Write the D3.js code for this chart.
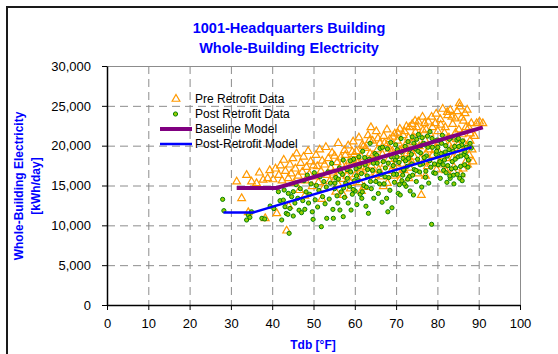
<!DOCTYPE html>
<html><head><meta charset="utf-8">
<script src="https://cdn.jsdelivr.net/npm/d3@7"></script>
<style>
html,body{margin:0;padding:0;background:#fff;}
svg{display:block;font-family:"Liberation Sans",Arial,sans-serif;}
</style></head>
<body>
<svg id="chart" width="558" height="354"></svg>
<script>
// ---- Data (Tdb °F, kWh/day) ----
const titleLines = ["1001-Headquarters Building", "Whole-Building Electricity"];
const xTicks = [0,10,20,30,40,50,60,70,80,90,100];
const yTicks = [0,5000,10000,15000,20000,25000,30000];
const legendLabels = ["Pre Retrofit Data","Post Retrofit Data","Baseline Model","Post-Retrofit Model"];

const preRetrofit = [
[31.4,15480],[32.6,13390],[33.8,16300],[34.2,11630],[35.0,15480],[36.2,15270],[36.9,16600],[37.8,15700],[38.3,10880],[38.9,15900],[39.4,16900],[40.2,15750],[40.8,17100],[41.1,11500],
[41.6,16300],[42.0,17500],[42.4,15600],[42.8,18200],[43.2,16800],[43.5,9320],[43.9,15900],[44.3,17600],[44.6,16500],[45.0,18400],[45.3,15300],[45.6,17100],[45.9,19000],[46.3,16200],[46.6,14400],[46.9,17800],[47.3,16700],[47.6,18600],[48.0,15600],[48.3,17300],[48.7,19300],[49.0,16400],[49.3,18000],[49.7,14900],[50.0,17500],[44.0,12400],[47.9,13700],
[50.3,16100],[50.6,18800],[50.9,17400],[51.2,15400],[51.5,19500],[51.8,16800],[52.1,18100],[52.4,14600],[52.7,17600],[53.0,19800],[53.3,16300],[53.6,18400],[53.9,15500],[54.2,17200],[54.5,19100],[54.8,16600],[55.1,18700],[55.4,14200],[55.7,17900],[56.0,20300],[56.3,16900],[56.6,18500],[56.9,15800],[57.2,13800],[57.5,19400],[57.8,17300],[58.1,16200],[58.4,20000],[58.7,18100],[59.0,15300],[59.3,17700],[59.6,20500],[59.9,18900],[52.0,13300],[55.9,15200],[58.9,14600],
[60.2,16400],[60.4,19300],[60.7,17800],[61.0,21000],[61.2,15400],[61.5,18600],[61.8,20100],[62.0,17100],[62.3,14800],[62.6,19700],[62.9,18000],[63.2,21300],[63.4,16600],[63.7,19000],[64.0,17500],[64.3,20600],[64.6,15700],[64.9,18400],[65.2,21800],[65.5,19500],[65.8,17000],[66.1,20300],[66.4,16100],[66.7,18900],[67.0,21200],[67.3,17700],[67.6,19900],[67.9,15300],[68.2,18300],[68.5,20800],[68.8,16800],[69.1,19300],[69.4,17400],[69.7,21500],[69.9,18700],[61.6,14300],[66.9,14900],[63.9,22300],
[70.1,17800],[70.3,20600],[70.6,18900],[70.9,22100],[71.1,16500],[71.4,19600],[71.7,21300],[71.9,16900],[72.2,20000],[72.5,22400],[72.8,18300],[73.0,21000],[73.3,17200],[73.6,19300],[73.9,22700],[74.1,20400],[74.4,18600],[74.7,21700],[75.0,22300],[75.3,16500],[75.6,19900],[75.8,21200],[76.1,13800],[76.4,23600],[76.7,18000],[77.0,20700],[77.3,22000],[77.6,17400],[77.9,19500],[78.2,21500],[78.6,23600],[78.9,18800],[79.2,20300],[79.5,22800],[79.8,17000],[73.1,15900],[77.1,16200],[70.8,15600],
[80.1,21800],[80.4,19100],[80.7,23300],[81.0,17600],[81.3,24600],[81.6,20500],[81.9,22300],[82.2,18400],[82.5,23800],[82.8,21000],[83.1,24470],[83.4,19600],[83.7,22700],[84.0,17300],[84.3,23400],[84.6,20800],[84.9,18900],[85.2,22000],[85.4,24890],[85.7,16400],[86.0,21400],[86.3,23100],[86.7,24050],[87.0,19900],[87.3,17600],[87.6,22300],[87.9,20600],[88.2,22800],[88.6,18000],[89.0,21200],[89.5,22800],[90.2,23000],[91.0,22800],[83.9,16730],[86.2,17100],[82.0,16900],[85.0,20100],[85.3,25300],
[55.3,16000],[56.8,17600],[57.7,18800],[58.6,16900],[59.4,19200],[60.6,18200],[61.4,16800],[62.1,19900],[62.8,17300],[63.6,20700],[64.4,18800],[65.0,16300],[65.6,20900],[66.2,18200],[67.2,20300],[67.8,22000],[68.4,19600],[69.2,21100],[69.5,16200],
[70.4,21600],[70.9,19400],[71.5,17700],[72.0,21800],[72.6,19000],[73.2,22300],[73.8,17900],[74.3,21000],[74.9,19600],[75.4,23000],[75.9,18300],[76.5,21900],[77.2,19000],[77.8,23000],[78.4,17700],[78.8,22300],[79.3,19400],[79.7,24000],[76.9,22800],[74.6,23100],
[80.3,20400],[80.8,22600],[81.2,18700],[81.7,21600],[82.4,24200],[82.9,20000],[83.5,23600],[83.8,18500],[84.4,21600],[84.8,24300],[85.5,19500],[85.9,23500],[86.5,20300],[86.9,22300],[87.2,24500],[87.7,18800],[88.0,21500],[88.4,19500],[86.8,17900],[84.1,19700],[80.5,17900],[82.6,17100]
];

const postRetrofit = [
[28.0,13260],[28.3,11840],[33.8,10670],[34.2,11300],[34.6,11000],[35.0,11700],[37.5,10880],[38.2,10800],[39.5,12420],[40.4,12100],
[41.5,14220],[41.9,13090],[42.3,10670],[42.7,13170],[42.9,14430],[43.1,12330],[43.4,11500],[43.8,11380],[43.9,14010],[44.1,9000],[44.3,12120],[44.7,13600],[45.1,14220],[45.1,11170],[45.5,12800],[45.8,15100],[46.2,13400],[46.5,11900],[46.8,14600],[47.1,11590],[47.4,13100],[47.7,15600],[47.9,12010],[48.2,14200],[48.5,16300],[48.8,12800],[49.1,13900],[49.4,15200],[49.7,11700],[49.9,10750],[50.2,16600],
[50.4,13200],[50.7,15000],[51.0,12300],[51.3,14400],[51.6,16100],[51.9,9830],[52.2,13600],[52.5,15500],[52.8,12700],[53.1,14800],[53.2,10880],[53.5,16700],[53.8,13300],[54.1,15300],[54.4,17780],[54.7,12000],[54.8,10880],[55.1,14600],[55.4,16000],[55.7,13700],[56.0,15800],[56.3,17200],[56.4,11920],[56.7,14200],[57.0,16400],[57.2,11090],[57.2,18200],[57.5,13500],[57.8,15300],[58.1,17000],[58.4,12800],[58.7,14900],[59.0,16700],[59.1,11920],[59.4,13900],[59.7,18300],[59.9,15600],
[60.1,14300],[60.3,17100],[60.5,12600],[60.8,15600],[61.0,18600],[61.3,13900],[61.6,16500],[61.7,13390],[61.9,19300],[62.2,15000],[62.5,17600],[62.7,12400],[63.0,16200],[63.3,11510],[63.5,18300],[63.7,20290],[64.0,14600],[64.3,16900],[64.6,13400],[64.9,19000],[65.1,15500],[65.4,17800],[65.7,14000],[66.1,19660],[66.3,16400],[66.6,12900],[66.9,18000],[67.1,15200],[67.4,17200],[67.7,13390],[67.9,19600],[68.2,16000],[68.5,14400],[68.8,18600],[69.0,12200],[69.3,17500],[69.6,15400],[69.9,20100],[62.8,14800],[65.9,16800],[68.0,11700],
[70.1,16400],[70.3,19500],[70.5,14020],[70.7,17900],[71.0,13810],[71.2,20900],[71.4,15600],[71.7,18400],[71.9,16900],[72.2,19900],[72.4,14900],[72.7,17400],[72.9,20500],[73.2,16100],[73.4,14310],[73.7,18900],[73.9,21100],[74.2,13810],[74.4,17000],[74.7,19600],[74.9,15500],[75.2,18300],[75.4,21400],[75.7,16700],[75.9,19100],[76.2,14800],[76.4,17700],[76.7,20300],[77.1,16030],[77.3,18700],[77.6,21200],[77.9,15300],[78.2,21750],[78.4,17300],[78.6,10130],[78.8,19800],[79.1,16600],[79.5,16530],[79.7,18900],[79.9,20700],[72.0,15200],[76.0,20000],[74.0,16300],
[80.2,17600],[80.4,20600],[80.7,15900],[80.9,19000],[81.2,21300],[81.5,16900],[81.7,18200],[82.0,20000],[82.3,15400],[82.5,17500],[82.8,19500],[83.1,15900],[83.3,21000],[83.6,18000],[83.9,16300],[84.2,19900],[84.4,17200],[84.7,20700],[85.0,18600],[85.4,15900],[85.6,17400],[85.9,20100],[86.2,16320],[86.4,18900],[86.7,19240],[87.1,18620],[87.4,17300],[87.9,20290],[88.2,19700],[84.0,15200],[82.1,16600],[86.0,15600],
[55.2,15300],[55.9,12800],[56.5,16700],[57.3,14700],[58.2,15900],[58.9,18100],[59.6,14500],[60.4,16200],[61.1,17400],[61.8,14200],[62.4,18500],[63.1,17000],[63.8,15500],[64.5,17800],[65.3,18800],[66.0,15200],[66.7,19800],[67.3,16100],[68.1,17800],[68.7,20400],[69.4,16400],[69.8,18200],
[70.2,18600],[70.8,15100],[71.3,19200],[71.8,17000],[72.3,18100],[72.8,15800],[73.3,19500],[73.8,17700],[74.3,20300],[74.8,16900],[75.3,19300],[75.8,17600],[76.3,21000],[76.8,18500],[77.2,16800],[77.7,19800],[78.1,18100],[78.7,20900],[79.3,17700],[79.8,19300],[73.0,18400],[75.0,20800],[77.0,20100],[71.6,16300],
[80.1,19800],[80.6,18000],[81.0,20300],[81.4,17600],[81.9,19200],[82.4,18700],[82.9,20800],[83.4,17100],[83.8,19300],[84.3,18300],[84.8,16400],[85.2,19900],[85.7,18700],[86.1,20600],[86.6,17600],[87.0,19800],[87.5,18200],[85.1,20900],[83.0,16200]
];

const baselineModel = [[31.4,14700],[41.1,14700],[91,22300]];
const postRetrofitModel = [[28.2,11620],[35.4,11620],[88.3,19800]];

// ---- Layout ----
const svg = d3.select("#chart");
const W = 558, H = 354;
const plot = {left:107, right:520, top:66, bottom:305};
const x = d3.scaleLinear().domain([0,100]).range([plot.left, plot.right]);
const y = d3.scaleLinear().domain([0,30000]).range([plot.bottom, plot.top]);

svg.append("rect").attr("width",W).attr("height",H).attr("fill","#fff");
// outer chart border (left & top visible)
svg.append("path").attr("d",`M7,${H+5}V7H${W+5}`).attr("fill","none").attr("stroke","#1a1a1a").attr("stroke-width",2);

// gridlines
const grid = svg.append("g");
grid.selectAll("line.h").data(yTicks.filter(d=>d>0 && d<30000)).join("line")
  .attr("x1",plot.left).attr("x2",plot.right).attr("y1",d=>y(d)+0.5).attr("y2",d=>y(d)+0.5)
  .attr("stroke","#8c8c8c").attr("stroke-dasharray","8,5");
grid.selectAll("line.v").data(xTicks.filter(d=>d>0 && d<100)).join("line")
  .attr("y1",plot.top).attr("y2",plot.bottom).attr("x1",d=>x(d)+0.5).attr("x2",d=>x(d)+0.5)
  .attr("stroke","#8c8c8c").attr("stroke-dasharray","8,5");
// top & right frame
svg.append("path").attr("d",`M${plot.left},${y(30000)+0.5}H${x(100)+0.5}V${plot.bottom}`)
  .attr("fill","none").attr("stroke","#8c8c8c");

// series
const tri = d3.symbol().type(d3.symbolTriangle).size(26);
svg.append("g").selectAll("path").data(preRetrofit).join("path")
  .attr("d",tri).attr("transform",d=>`translate(${x(d[0])},${y(d[1])})`)
  .attr("fill","none").attr("stroke","#FF9900").attr("stroke-width",1.2);
svg.append("g").selectAll("circle").data(postRetrofit).join("circle")
  .attr("cx",d=>x(d[0])).attr("cy",d=>y(d[1])).attr("r",2.1)
  .attr("fill","#99CC00").attr("stroke","#008000").attr("stroke-width",1);

const line = d3.line().x(d=>x(d[0])).y(d=>y(d[1]));
svg.append("path").datum(baselineModel).attr("d",line).attr("fill","none").attr("stroke","#800080").attr("stroke-width",4);
svg.append("path").datum(postRetrofitModel).attr("d",line).attr("fill","none").attr("stroke","#0000FF").attr("stroke-width",2.5);

// axes
const xAxis = svg.append("g").attr("transform",`translate(0,${plot.bottom})`)
  .call(d3.axisBottom(x).tickValues(xTicks).tickSize(5).tickSizeOuter(0).tickPadding(9));
const yAxis = svg.append("g").attr("transform",`translate(${plot.left},0)`)
  .call(d3.axisLeft(y).tickValues(yTicks).tickFormat(d3.format(",")).tickSize(5).tickSizeOuter(0).tickPadding(11));
[xAxis,yAxis].forEach(a=>{
  a.select(".domain").attr("stroke","#000").attr("stroke-width",1.5);
  a.selectAll(".tick line").attr("stroke","#000");
  a.selectAll("text").attr("font-size",13).attr("fill","#000").attr("font-family","Liberation Sans, Arial, sans-serif");
});

// titles
const title = svg.append("text").attr("text-anchor","middle").attr("font-weight","bold")
  .attr("font-size",14.5).attr("fill","#0000FF");
titleLines.forEach((t,i)=>title.append("tspan").attr("x",289).attr("y",33+i*19.5).text(t));

svg.append("text").attr("x",313).attr("y",349).attr("text-anchor","middle").attr("font-weight","bold")
  .attr("font-size",12).attr("fill","#0000FF").text("Tdb [°F]");
const yt = svg.append("text").attr("transform","translate(0,186) rotate(-90)").attr("text-anchor","middle")
  .attr("font-weight","bold").attr("font-size",12).attr("fill","#0000FF");
yt.append("tspan").attr("x",0).attr("y",22.5).text("Whole-Building Electricity");
yt.append("tspan").attr("x",0).attr("y",39.5).text("[kWh/day]");

// legend
const lg = svg.append("g");
const ly = [99,114,129,144];
lg.append("path").attr("d",tri).attr("transform",`translate(176,${ly[0]})`).attr("fill","none").attr("stroke","#FF9900").attr("stroke-width",1.2);
lg.append("circle").attr("cx",175.5).attr("cy",ly[1]).attr("r",2.1).attr("fill","#99CC00").attr("stroke","#008000");
lg.append("line").attr("x1",160).attr("x2",192).attr("y1",ly[2]).attr("y2",ly[2]).attr("stroke","#800080").attr("stroke-width",4);
lg.append("line").attr("x1",160).attr("x2",192).attr("y1",ly[3]).attr("y2",ly[3]).attr("stroke","#0000FF").attr("stroke-width",2.5);
lg.selectAll("text").data(legendLabels).join("text")
  .attr("x",195).attr("y",(d,i)=>ly[i]).attr("dy","0.35em").attr("font-size",12).attr("fill","#000").text(d=>d);
</script>
</body></html>
